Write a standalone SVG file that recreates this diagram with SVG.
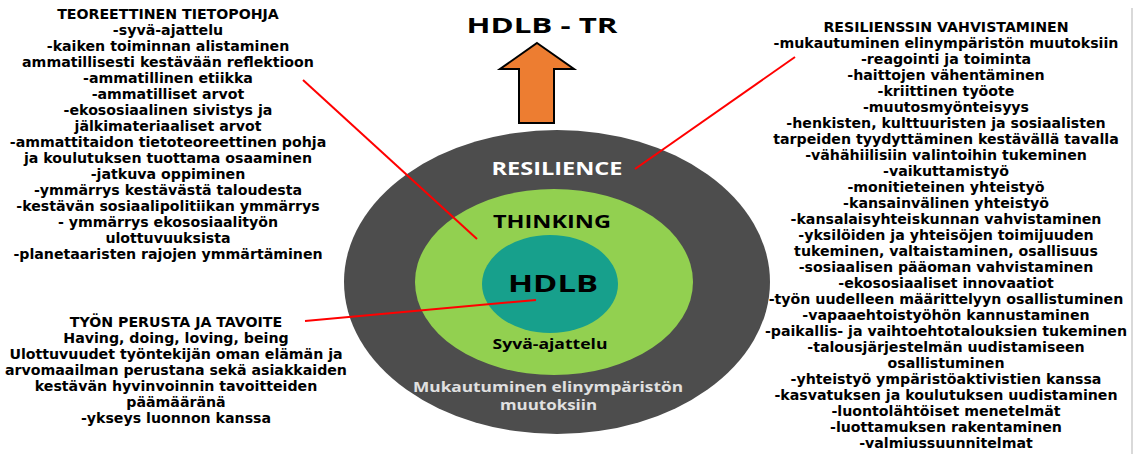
<svg xmlns="http://www.w3.org/2000/svg" width="1134" height="454" viewBox="0 0 1134 454">
  <style>
    .t { font-family: "DejaVu Sans", "Liberation Sans", sans-serif; font-weight: bold; font-size: 13.5px; fill: #000; text-anchor: middle; }
    .c { font-family: "Open Sans", "Liberation Sans", sans-serif; font-weight: bold; text-anchor: middle; }
    .conn { stroke: #ff0000; stroke-width: 2; fill: none; }
  </style>
  <rect width="1134" height="454" fill="#ffffff"/>
  <line x1="1132" y1="8" x2="1132" y2="454" stroke="#d9d9d9" stroke-width="2"/>

  <g id="title">
    <text class="c" x="542" y="33" font-size="21" textLength="151" lengthAdjust="spacingAndGlyphs">HDLB - TR</text>
  </g>
  <g id="arrow">
    <polygon points="537,43 574,69 554,69 554,123 519,123 519,69 500,69" fill="#ed7d31" stroke="#000" stroke-width="2" stroke-linejoin="miter"/>
  </g>

  <g id="resilience">
    <ellipse cx="557" cy="282" rx="213" ry="152" fill="#4d4d4d"/>
    <text class="c" x="557" y="175" font-size="18" fill="#ffffff" textLength="131" lengthAdjust="spacingAndGlyphs">RESILIENCE</text>
    <text class="c" x="548" y="392" font-size="15" font-weight="normal" fill="#e0e0e0" textLength="270" lengthAdjust="spacingAndGlyphs">Mukautuminen elinympäristön</text>
    <text class="c" x="548.5" y="410" font-size="15" font-weight="normal" fill="#e0e0e0" textLength="97" lengthAdjust="spacingAndGlyphs">muutoksiin</text>
  </g>
  <g id="thinking">
    <ellipse cx="554" cy="282" rx="139" ry="93" fill="#92d050"/>
    <text class="c" x="552" y="228" font-size="18" fill="#000" textLength="118" lengthAdjust="spacingAndGlyphs">THINKING</text>
    <text class="c" x="550" y="349" font-size="14" font-weight="600" fill="#000" textLength="115" lengthAdjust="spacingAndGlyphs">Syvä-ajattelu</text>
  </g>
  <g id="hdlb">
    <ellipse cx="550" cy="284" rx="68" ry="49" fill="#17a08c"/>
    <text class="c" x="553" y="292" font-size="24" fill="#000" textLength="90" lengthAdjust="spacingAndGlyphs">HDLB</text>
  </g>

  <g id="connectors">
    <line class="conn" x1="303" y1="80" x2="477" y2="239"/>
    <line class="conn" x1="795" y1="57" x2="635" y2="169"/>
    <line class="conn" x1="305" y1="321" x2="536" y2="300"/>
  </g>

  <g id="teoreettinen" transform="matrix(1.05,0,0,1,-8.4,0)">
    <text class="t" x="168" y="19">TEOREETTINEN TIETOPOHJA</text>
    <text class="t" x="168" y="35">-syvä-ajattelu</text>
    <text class="t" x="168" y="51">-kaiken toiminnan alistaminen</text>
    <text class="t" x="168" y="67">ammatillisesti kestävään reflektioon</text>
    <text class="t" x="168" y="83">-ammatillinen etiikka</text>
    <text class="t" x="168" y="99">-ammatilliset arvot</text>
    <text class="t" x="168" y="115">-ekososiaalinen sivistys ja</text>
    <text class="t" x="168" y="131">jälkimateriaaliset arvot</text>
    <text class="t" x="168" y="147">-ammattitaidon tietoteoreettinen pohja</text>
    <text class="t" x="168" y="163">ja koulutuksen tuottama osaaminen</text>
    <text class="t" x="168" y="179">-jatkuva oppiminen</text>
    <text class="t" x="168" y="195">-ymmärrys kestävästä taloudesta</text>
    <text class="t" x="168" y="211">-kestävän sosiaalipolitiikan ymmärrys</text>
    <text class="t" x="168" y="227">- ymmärrys ekososiaalityön</text>
    <text class="t" x="168" y="243">ulottuvuuksista</text>
    <text class="t" x="168" y="259">-planetaaristen rajojen ymmärtäminen</text>
  </g>

  <g id="tyon-perusta" transform="matrix(1.05,0,0,1,-8.8,0)">
    <text class="t" x="176" y="327">TYÖN PERUSTA JA TAVOITE</text>
    <text class="t" x="176" y="343">Having, doing, loving, being</text>
    <text class="t" x="176" y="359">Ulottuvuudet työntekijän oman elämän ja</text>
    <text class="t" x="176" y="375">arvomaailman perustana sekä asiakkaiden</text>
    <text class="t" x="176" y="391">kestävän hyvinvoinnin tavoitteiden</text>
    <text class="t" x="176" y="407">päämääränä</text>
    <text class="t" x="176" y="423">-ykseys luonnon kanssa</text>
  </g>

  <g id="resilienssi" transform="matrix(1.05,0,0,1,-47.3,0)">
    <text class="t" x="946" y="32">RESILIENSSIN VAHVISTAMINEN</text>
    <text class="t" x="946" y="48">-mukautuminen elinympäristön muutoksiin</text>
    <text class="t" x="946" y="64">-reagointi ja toiminta</text>
    <text class="t" x="946" y="80">-haittojen vähentäminen</text>
    <text class="t" x="946" y="96">-kriittinen työote</text>
    <text class="t" x="946" y="112">-muutosmyönteisyys</text>
    <text class="t" x="946" y="128">-henkisten, kulttuuristen ja sosiaalisten</text>
    <text class="t" x="946" y="144">tarpeiden tyydyttäminen kestävällä tavalla</text>
    <text class="t" x="946" y="160">-vähähiilisiin valintoihin tukeminen</text>
    <text class="t" x="946" y="176">-vaikuttamistyö</text>
    <text class="t" x="946" y="192">-monitieteinen yhteistyö</text>
    <text class="t" x="946" y="208">-kansainvälinen yhteistyö</text>
    <text class="t" x="946" y="224">-kansalaisyhteiskunnan vahvistaminen</text>
    <text class="t" x="946" y="240">-yksilöiden ja yhteisöjen toimijuuden</text>
    <text class="t" x="946" y="256">tukeminen, valtaistaminen, osallisuus</text>
    <text class="t" x="946" y="272">-sosiaalisen pääoman vahvistaminen</text>
    <text class="t" x="946" y="288">-ekososiaaliset innovaatiot</text>
    <text class="t" x="946" y="304">-työn uudelleen määrittelyyn osallistuminen</text>
    <text class="t" x="946" y="320">-vapaaehtoistyöhön kannustaminen</text>
    <text class="t" x="946" y="336">-paikallis- ja vaihtoehtotalouksien tukeminen</text>
    <text class="t" x="946" y="352">-talousjärjestelmän uudistamiseen</text>
    <text class="t" x="946" y="368">osallistuminen</text>
    <text class="t" x="946" y="384">-yhteistyö ympäristöaktivistien kanssa</text>
    <text class="t" x="946" y="400">-kasvatuksen ja koulutuksen uudistaminen</text>
    <text class="t" x="946" y="416">-luontolähtöiset menetelmät</text>
    <text class="t" x="946" y="432">-luottamuksen rakentaminen</text>
    <text class="t" x="946" y="448">-valmiussuunnitelmat</text>
  </g>
</svg>
